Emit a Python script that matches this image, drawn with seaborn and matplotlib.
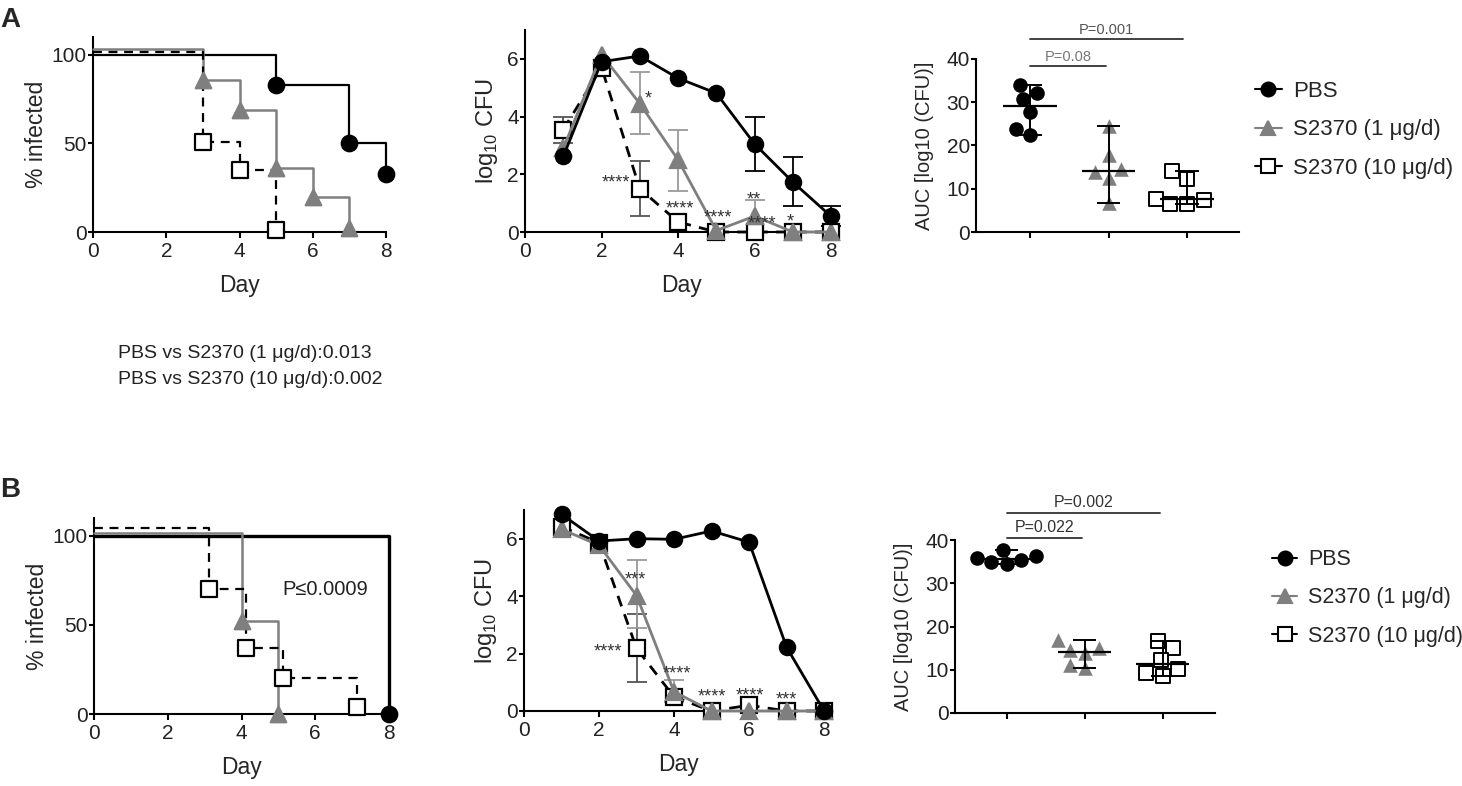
import numpy as np
import pandas as pd
import matplotlib
matplotlib.use("Agg")
import matplotlib.pyplot as plt
from matplotlib.lines import Line2D
import seaborn as sns

sns.set_style("ticks")
plt.rcParams["font.family"] = ["Liberation Sans", "DejaVu Sans"]
plt.rcParams["axes.linewidth"] = 1.5
plt.rcParams["xtick.major.width"] = 1.5
plt.rcParams["ytick.major.width"] = 1.5
plt.rcParams["xtick.major.size"] = 4.3
plt.rcParams["ytick.major.size"] = 3.6
plt.rcParams["xtick.major.pad"] = 3
plt.rcParams["ytick.major.pad"] = 0.8
plt.rcParams["xtick.labelsize"] = 15
plt.rcParams["ytick.labelsize"] = 15
plt.rcParams["axes.edgecolor"] = "black"

# ---------------- data ----------------
groups = ["PBS", "S2370 (1 μg/d)", "S2370 (10 μg/d)"]
cfu_days = [1, 2, 3, 4, 5, 6, 7, 8]
nan = np.nan

# A - % infected
surv_a_pbs_days = [0, 5, 7, 8]
surv_a_pbs = [100, 83, 50, 33]
surv_a_1_days = [0, 3, 4, 5, 6, 7]
surv_a_1 = [103, 86, 69, 36, 20, 2]
surv_a_10_days = [0, 3, 4, 5]
surv_a_10 = [101.5, 51, 35, 1]

# A - log10 CFU (mean, lower / upper error)
cfu_a_pbs = [2.62, 5.9, 6.1, 5.33, 4.81, 3.05, 1.73, 0.54]
cfu_a_pbs_lo = [nan, nan, nan, nan, nan, 2.12, 0.91, 0.2]
cfu_a_pbs_hi = [nan, nan, nan, nan, nan, 4.0, 2.6, 0.89]
cfu_a_1 = [2.9, 6.15, 4.45, 2.5, 0.05, 0.55, 0.0, 0.0]
cfu_a_1_lo = [nan, nan, 3.4, 1.43, nan, 0.0, nan, nan]
cfu_a_1_hi = [nan, nan, 5.56, 3.54, nan, 1.12, nan, nan]
cfu_a_10 = [3.55, 5.7, 1.5, 0.35, 0.0, 0.0, 0.0, 0.0]
cfu_a_10_lo = [3.1, nan, 0.54, nan, nan, nan, nan, nan]
cfu_a_10_hi = [4.0, nan, 2.45, nan, nan, nan, nan, nan]
stars_a_x = [3.23, 2.37, 4.06, 5.03, 5.98, 6.2, 6.94]
stars_a_y = [4.79, 1.87, 0.97, 0.68, 1.29, 0.46, 0.54]
stars_a_txt = ["*", "****", "****", "****", "**", "****", "*"]

# A - AUC
auc_a_pbs = [32.2, 30.7, 34.0, 27.7, 23.8, 22.5]
auc_a_1 = [13.8, 24.5, 17.8, 12.5, 14.6, 6.8]
auc_a_10 = [14.2, 12.2, 7.5, 6.5, 6.5, 7.6]

# B - % infected
surv_b_pbs_days = [0, 8]
surv_b_pbs = [100, 0]
surv_b_1_days = [0, 4, 5]
surv_b_1 = [101.5, 52, 0]
surv_b_10_days = [0, 3.12, 4.12, 5.12, 7.12]
surv_b_10 = [104.5, 70, 37, 20, 4]

# B - log10 CFU
cfu_b_pbs = [6.85, 5.92, 6.0, 5.98, 6.27, 5.88, 2.22, 0.0]
cfu_b_pbs_lo = [nan] * 8
cfu_b_pbs_hi = [nan] * 8
cfu_b_1 = [6.33, 5.77, 4.02, 0.67, 0.0, 0.0, 0.0, 0.0]
cfu_b_1_lo = [nan, nan, 2.88, 0.3, nan, nan, nan, nan]
cfu_b_1_hi = [nan, nan, 5.25, 1.07, nan, nan, nan, nan]
cfu_b_10 = [6.42, 5.86, 2.18, 0.49, 0.0, 0.2, 0.0, 0.0]
cfu_b_10_lo = [nan, nan, 1.02, nan, nan, nan, nan, nan]
cfu_b_10_hi = [nan, nan, 3.39, nan, nan, nan, nan, nan]
stars_b_x = [2.96, 2.25, 4.07, 5.0, 6.03, 7.0]
stars_b_y = [4.75, 2.24, 1.46, 0.67, 0.70, 0.58]
stars_b_txt = ["***", "****", "****", "****", "****", "***"]

# B - AUC
auc_b_pbs = [34.5, 35.0, 35.3, 35.9, 36.2, 37.8]
auc_b_1 = [15.0, 13.8, 14.6, 10.4, 16.8, 11.2]
auc_b_10 = [16.7, 15.0, 12.3, 10.2, 8.5, 9.2]

# ---------------- styles ----------------
GRAY = "#7f7f7f"
sty = [
    dict(color="black", marker="o", ls="-", fc="black", ec="black", err="black"),
    dict(color=GRAY, marker="^", ls="-", fc=GRAY, ec=GRAY, err="#9a9a9a"),
    dict(color="black", marker="s", ls=(0, (4, 3)), fc="white", ec="black", err="#555555"),
]

W, H = 1462, 786
fig = plt.figure(figsize=(W / 100, H / 100), dpi=100)


def rect(l, r, t, b):
    return [l / W, 1 - b / H, (r - l) / W, (b - t) / H]


def style_axes(ax):
    sns.despine(ax=ax)
    ax.tick_params(direction="out", colors="black", labelcolor="#222222")


def surv_panel(ax, series, lws):
    for k in [0, 2, 1]:
        d, v = series[k]
        s = sty[k]
        sns.lineplot(x=d, y=v, ax=ax, color=s["color"], lw=lws[k], linestyle=s["ls"],
                     drawstyle="steps-post", estimator=None, clip_on=False, zorder=2 + k)
        sns.scatterplot(x=d[1:], y=v[1:], ax=ax, marker=s["marker"], s=125,
                        color=s["fc"], edgecolor=s["ec"], linewidth=1.6,
                        clip_on=False, zorder=6 + k)
    ax.set_xlim(0, 8)
    ax.set_ylim(0, 110)
    ax.set_xticks([0, 2, 4, 6, 8])
    ax.set_yticks([0, 50, 100])
    ax.set_xlabel("Day", fontsize=16.5, labelpad=9)
    ax.set_ylabel("% infected", fontsize=16.5, labelpad=3)
    style_axes(ax)


def cfu_panel(ax, series, stars, xmax):
    for k in [2, 1, 0]:
        v, lo, hi = (np.array(a, dtype=float) for a in series[k])
        s = sty[k]
        yerr = np.vstack([v - lo, hi - v])
        ax.errorbar(cfu_days, v, yerr=yerr, fmt="none", ecolor=s["err"], elinewidth=1.3,
                    capsize=7, capthick=1.3, zorder=3 - k, clip_on=False)
        sns.lineplot(x=cfu_days, y=v, ax=ax, color=s["color"], lw=2, linestyle=s["ls"],
                     marker=s["marker"], markersize=11, markerfacecolor=s["fc"],
                     markeredgecolor=s["ec"], markeredgewidth=1.6, estimator=None,
                     clip_on=False, zorder=6 - k)
    for x, y, t in zip(*stars):
        ax.annotate(t, (x, y), xytext=(0, -7), textcoords="offset points",
                    ha="center", va="baseline", fontsize=13, color="#333333", zorder=10)
    ax.set_xlim(0, xmax)
    ax.set_ylim(0, 7)
    ax.set_xticks([0, 2, 4, 6, 8])
    ax.set_yticks([0, 2, 4, 6])
    ax.set_xlabel("Day", fontsize=16.5, labelpad=9)
    ax.set_ylabel("log$_{\\mathregular{10}}$ CFU", fontsize=17, labelpad=5)
    style_axes(ax)


def auc_panel(ax, vals, xlim, brackets, leg_anchor, leg_fs):
    df = pd.DataFrame({"group": np.repeat(groups, [len(v) for v in vals]),
                       "auc": np.concatenate(vals)})
    for k, g in enumerate(groups):
        s = sty[k]
        sub = df[df["group"] == g]
        sns.swarmplot(data=sub, x="group", y="auc", order=groups, ax=ax, marker=s["marker"],
                      color=s["fc"], edgecolor=s["ec"], linewidth=1.4 if k == 2 else 0,
                      size=10.5, zorder=3)
        v = sub["auc"]
        med, lo, hi = v.median(), v.min(), v.max()
        ax.hlines(med, k - 0.34, k + 0.34, color="black", lw=1.6, zorder=5)
        ax.vlines(k, lo, hi, color="black", lw=1.4, zorder=5)
        ax.hlines([lo, hi], k - 0.15, k + 0.15, color="black", lw=1.4, zorder=5)
    for x1, y, label, tcol, fs in brackets:
        ax.plot([0, x1], [y, y], color="#333333", lw=1.3, clip_on=False)
        ax.text(x1 / 2, y + 0.6, label, ha="center", va="bottom", fontsize=fs, color=tcol)
    ax.set_xlim(*xlim)
    ax.set_ylim(0, 40)
    ax.set_xticks([0, 1, 2])
    ax.set_xticklabels([])
    ax.set_yticks([0, 10, 20, 30, 40])
    ax.set_xlabel("")
    ax.set_ylabel("AUC [log10 (CFU)]", fontsize=14.5, labelpad=9)
    style_axes(ax)
    handles = [Line2D([], [], color=s["color"], marker=s["marker"], markersize=10,
                      markerfacecolor=s["fc"], markeredgecolor=s["ec"], markeredgewidth=1.5,
                      linestyle="-", lw=1.5) for s in sty]
    ax.legend(handles, groups, loc="center left", bbox_to_anchor=leg_anchor,
              bbox_transform=fig.transFigure, frameon=False, fontsize=leg_fs,
              handlelength=1.2, handletextpad=0.5, labelspacing=0.8, borderaxespad=0)


# ---------------- row A ----------------
ax1 = fig.add_axes(rect(93, 386, 37, 232))
surv_panel(ax1, [(surv_a_pbs_days, surv_a_pbs), (surv_a_1_days, surv_a_1),
                 (surv_a_10_days, surv_a_10)], [1.6, 1.8, 1.6])

ax2 = fig.add_axes(rect(525, 838, 30, 232))
cfu_panel(ax2, [(cfu_a_pbs, cfu_a_pbs_lo, cfu_a_pbs_hi), (cfu_a_1, cfu_a_1_lo, cfu_a_1_hi),
                (cfu_a_10, cfu_a_10_lo, cfu_a_10_hi)], (stars_a_x, stars_a_y, stars_a_txt), 8.18)

ax3 = fig.add_axes(rect(976, 1239, 59, 232))
auc_panel(ax3, [auc_a_pbs, auc_a_1, auc_a_10], (-0.69, 2.66),
          [(0.97, 38.3, "P=0.08", "#777777", 10.5), (1.95, 44.6, "P=0.001", "#555555", 10.5)],
          (1246 / W, 1 - 130 / H), 16)

fig.text(118 / W, 1 - 354 / H, "PBS vs S2370 (1 μg/d):0.013", fontsize=14, va="center",
         color="#222222")
fig.text(118 / W, 1 - 380 / H, "PBS vs S2370 (10 μg/d):0.002", fontsize=14, va="center",
         color="#222222")

# ---------------- row B ----------------
ax4 = fig.add_axes(rect(94, 389, 518, 714))
surv_panel(ax4, [(surv_b_pbs_days, surv_b_pbs), (surv_b_1_days, surv_b_1),
                 (surv_b_10_days, surv_b_10)], [2.4, 1.8, 1.6])
ax4.text(5.12, 70, "P≤0.0009", fontsize=14.5, va="center", ha="left", color="#222222")

ax5 = fig.add_axes(rect(524, 832, 510, 711))
cfu_panel(ax5, [(cfu_b_pbs, cfu_b_pbs_lo, cfu_b_pbs_hi), (cfu_b_1, cfu_b_1_lo, cfu_b_1_hi),
                (cfu_b_10, cfu_b_10_lo, cfu_b_10_hi)], (stars_b_x, stars_b_y, stars_b_txt), 8.21)

ax6 = fig.add_axes(rect(955, 1215, 540, 713))
auc_panel(ax6, [auc_b_pbs, auc_b_1, auc_b_10], (-0.66, 2.67),
          [(0.97, 40.5, "P=0.022", "#333333", 11.5), (1.97, 46.3, "P=0.002", "#333333", 11.5)],
          (1263 / W, 1 - 598 / H), 15.5)

fig.text(10 / W, 1 - 20 / H, "A", fontsize=20, fontweight="bold", ha="center", va="center")
fig.text(10 / W, 1 - 490 / H, "B", fontsize=20, fontweight="bold", ha="center", va="center")

fig.savefig("out.png", dpi=100)
